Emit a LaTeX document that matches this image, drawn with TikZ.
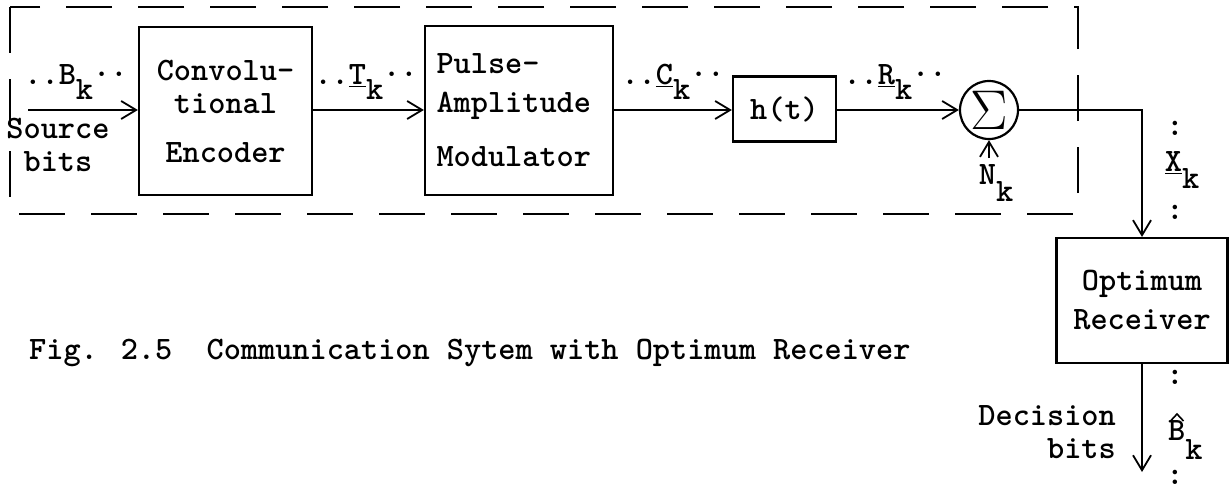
\documentclass[tikz,border=0pt]{standalone}
\usetikzlibrary{arrows.meta}
\begin{document}
\begin{tikzpicture}[x=1pt,y=-1pt,
  every node/.style={font=\ttfamily\bfseries\fontsize{32.7}{36}\selectfont, inner sep=0pt},
  blk/.style={draw, line width=2.2pt, inner sep=0pt},
  wire/.style={line width=1.8pt},
  arr/.style={wire, -{Straight Barb[length=15pt,width=18pt,line width=1.8pt]}},
  frame/.style={line width=1.8pt, dash pattern=on 46pt off 26pt},
  lbl/.style={anchor=center}
]
\useasboundingbox (0,0) rectangle (1229,490);

% dashed frame
\draw[frame] (10,7) rectangle (1078,214);

% blocks
\node[blk, minimum width=173pt, minimum height=168pt, align=center] (enc) at (225.5,111)
  {Convolu-\\[-3pt]tional\\[13pt]Encoder};
\node[blk, minimum width=188pt, minimum height=169pt, align=left, text width=165pt] (pam) at (519,110.5)
  {Pulse-\\[3pt]Amplitude\\[18pt]Modulator};
\node[blk, minimum width=103pt, minimum height=65pt] (h) at (784.5,109) {h(t)};
\node[blk, circle, minimum size=58pt, font=\normalfont\fontsize{20}{20}\selectfont] (sum) at (989,110) {\scalebox{2.7}{$\Sigma$}};
\node[blk, minimum width=171pt, minimum height=125pt, align=center] (rx) at (1142,300.5)
  {Optimum\\[3pt]Receiver};

% coordinates
\coordinate (src) at (28,110);
\coordinate (nz) at (989,158);
\coordinate (c1) at (1142,110);
\coordinate (out) at (1142,472);

% connectors
\draw[arr] (src) -- (enc.west |- src);
\draw[arr] (enc.east |- src) -- (pam.west |- src);
\draw[arr] (pam.east |- src) -- (h.west |- src);
\draw[arr] (h.east |- src) -- (sum.west);
\draw[arr, line width=2.6pt] (nz) -- (sum.south);
\draw[arr] (sum.east) -- (c1) -- (rx.north);
\draw[arr] (rx.south) -- (out);

% labels
\node[lbl] (lb) at (76,82) {..B\raisebox{-.45em}{k}\raisebox{.25em}{..}};
\node[lbl, align=center] (ls) at (58,145) {Source\\[-3pt]bits};
\node[lbl] (lt) at (366,82) {..\underline{T}\raisebox{-.45em}{k}\raisebox{.25em}{..}};
\node[lbl] (lc) at (673,82) {..\underline{C}\raisebox{-.45em}{k}\raisebox{.25em}{..}};
\node[lbl] (lr) at (895,82) {..\underline{R}\raisebox{-.45em}{k}\raisebox{.25em}{..}};
\node[lbl] (ln) at (996,183) {N\raisebox{-.5em}{k}};

\node[lbl] (dx1) at (1175,128) {:};
\node[lbl] (lx) at (1182,170) {\underline{X}\raisebox{-.5em}{k}};
\node[lbl] (dx2) at (1175,212) {:};

\node[lbl] (db1) at (1175,377) {:};
\node[anchor=base west] (lbh) at (1168,440) {B\raisebox{-.6em}{k}};
\draw[line width=1.6pt] (1170.5,421) -- (1177,414) -- (1183.5,421);
\node[lbl] (db2) at (1175,477) {:};

\node[anchor=east, align=right] (ld) at (1116,432) {Decision\\[-3pt]bits};

\node[anchor=west] (cap) at (29,353) {Fig. 2.5\ \ Communication Sytem with Optimum Receiver};
\end{tikzpicture}
\end{document}
